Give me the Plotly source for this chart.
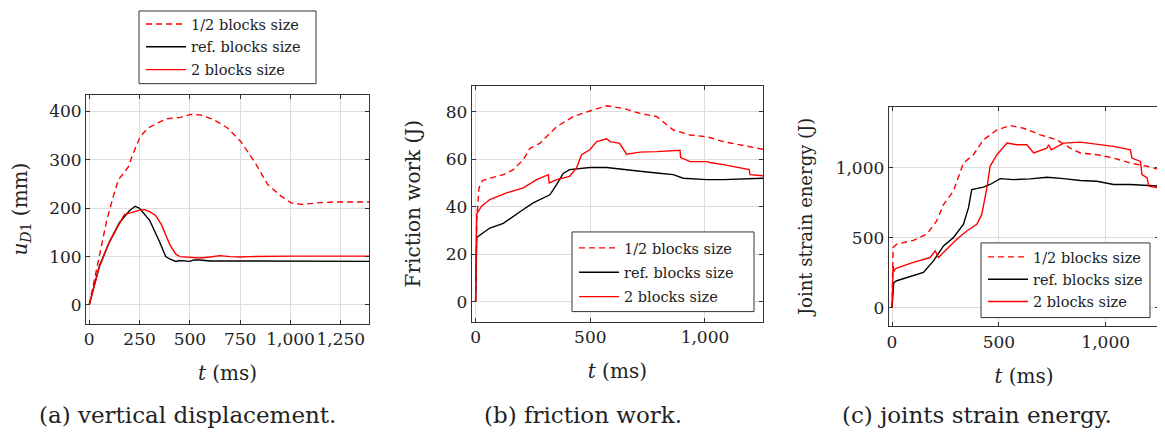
import plotly.graph_objects as go

# ---------------- data ----------------
names = ["1/2 blocks size", "ref. blocks size", "2 blocks size"]

# (a) vertical displacement u_D1 (mm)
a_half_t = [0, 37, 60, 87, 120, 145, 170, 195, 215, 235, 253, 290, 337, 387, 453, 503, 553, 620, 687, 753, 820, 887, 953, 1003, 1053, 1137, 1220, 1390]
a_half_y = [0, 77, 119, 175, 225, 259, 272, 286, 310, 332, 348, 365, 376, 385, 388, 394, 393, 383, 366, 338, 297, 249, 225, 211, 208, 211, 213, 213]
a_ref_t = [0, 25, 50, 100, 150, 200, 228, 250, 300, 350, 380, 400, 430, 450, 500, 520, 550, 600, 650, 700, 750, 1000, 1390]
a_ref_y = [0, 42, 80, 130, 170, 195, 204, 200, 175, 130, 100, 95, 90, 92, 90, 93, 93, 91, 91, 90, 90, 90, 90]
a_two_t = [0, 25, 50, 100, 150, 175, 200, 250, 275, 300, 330, 360, 400, 430, 450, 500, 550, 600, 650, 700, 750, 800, 900, 1000, 1390]
a_two_y = [0, 42, 78, 130, 170, 187, 190, 196, 197, 193, 185, 165, 125, 105, 100, 98, 97, 99, 102, 100, 99, 100, 101, 101, 101]

# (b) friction work (J)
b_half_t = [0, 5, 15, 30, 62, 121, 164, 208, 237, 280, 353, 426, 498, 571, 644, 717, 789, 862, 935, 1007, 1080, 1153, 1253]
b_half_y = [0, 35, 48, 51, 52, 53.5, 55.6, 59.8, 64.6, 66.7, 73.7, 78, 80.3, 82.5, 81.4, 79.3, 78, 72.3, 70.2, 69.5, 67.4, 66, 64.2]
b_ref_t = [0, 5, 33, 62, 121, 164, 208, 251, 324, 353, 382, 410, 440, 498, 571, 644, 717, 789, 862, 905, 1007, 1080, 1253]
b_ref_y = [0, 27, 29, 31, 33, 36, 38.8, 41.6, 45, 49.3, 54, 55.6, 56, 56.5, 56.5, 55.6, 54.9, 54.2, 53.5, 52, 51.4, 51.4, 52]
b_two_t = [0, 5, 26, 62, 135, 208, 266, 317, 321, 353, 410, 440, 462, 498, 528, 571, 586, 628, 658, 717, 789, 891, 894, 935, 1007, 1022, 1080, 1153, 1193, 1196, 1253]
b_two_y = [0, 37, 40.2, 43, 45.8, 47.9, 51.4, 53.5, 50, 51.4, 52.8, 56.3, 61.9, 64, 67.4, 68.6, 67.4, 66.7, 62.1, 63, 63.2, 63.8, 60.7, 59, 59, 58.6, 57.7, 56.5, 55.6, 53.5, 53]

# (c) joint strain energy (J)
c_half_t = [0, 5, 22, 100, 162, 209, 241, 287, 334, 381, 428, 491, 553, 616, 694, 772, 834, 881, 959, 1037, 1116, 1194, 1253]
c_half_y = [0, 431, 455, 483, 526, 621, 739, 834, 1035, 1095, 1201, 1272, 1303, 1284, 1237, 1201, 1142, 1107, 1095, 1071, 1035, 1012, 988]
c_ref_t = [0, 8, 22, 100, 147, 194, 241, 287, 334, 358, 373, 428, 459, 506, 569, 647, 725, 803, 881, 959, 1037, 1116, 1194, 1253]
c_ref_y = [0, 180, 194, 230, 254, 336, 443, 502, 597, 716, 846, 863, 882, 924, 917, 922, 934, 924, 910, 905, 882, 882, 874, 870]
c_two_t = [0, 5, 9, 14, 22, 100, 178, 202, 217, 233, 256, 303, 350, 397, 420, 444, 459, 491, 538, 584, 631, 663, 725, 733, 745, 803, 881, 959, 1037, 1116, 1123, 1163, 1170, 1194, 1202, 1253]
c_two_y = [0, 300, 260, 277, 284, 325, 360, 408, 360, 384, 419, 491, 550, 597, 668, 858, 1012, 1095, 1178, 1166, 1166, 1107, 1142, 1166, 1130, 1178, 1185, 1171, 1154, 1130, 1071, 1047, 953, 929, 870, 858]

# ---------------- figure ----------------
SERIF = "DejaVu Serif"
RED = "#ff0000"
INK = "#222222"
DASH = "6px,4px"
OFF = 8  # page body margin
W, H = 1165 - OFF, 439 - OFF

fig = go.Figure()

panels = [
    ("x", "y", "legend", [(a_half_t, a_half_y), (a_ref_t, a_ref_y), (a_two_t, a_two_y)]),
    ("x2", "y2", "legend2", [(b_half_t, b_half_y), (b_ref_t, b_ref_y), (b_two_t, b_two_y)]),
    ("x3", "y3", "legend3", [(c_half_t, c_half_y), (c_ref_t, c_ref_y), (c_two_t, c_two_y)]),
]
styles = [dict(color=RED, dash=DASH), dict(color="black"), dict(color=RED)]

for xa, ya, lg, series in panels:
    for i, ((t, v), nm, st) in enumerate(zip(series, names, styles)):
        fig.add_trace(go.Scatter(x=t, y=v, mode="lines", name=nm, xaxis=xa, yaxis=ya,
                                 legend=lg, legendgroup=f"{lg}_{i}",
                                 line=dict(width=1.4, **st)))

def px_x(p):
    return (p - OFF) / W

def px_y(p):
    return 1 - (p - OFF) / H

axis_common = dict(showgrid=True, gridcolor="#dcdcdc", gridwidth=1, zeroline=False,
                   showline=True, linecolor="#333333", linewidth=1, mirror="ticks",
                   ticks="inside", ticklen=4, tickcolor="#333333", tickangle=0,
                   automargin=False,
                   tickfont=dict(family=SERIF, size=17, color=INK))

def ttl(text, standoff, size=20):
    return dict(text=text, standoff=standoff, font=dict(family=SERIF, size=size, color=INK))

fig.update_layout(
    width=W, height=H,
    margin=dict(l=0, r=0, t=0, b=0),
    paper_bgcolor="white", plot_bgcolor="white",
    font=dict(family=SERIF, size=14, color=INK),
    xaxis=dict(domain=[px_x(86), px_x(369)], range=[-16, 1390], anchor="y",
               tickvals=[0, 250, 500, 750, 1000, 1250], tickformat=",",
               title=ttl("<i>t</i> (ms)", 18), **axis_common),
    yaxis=dict(domain=[px_y(323), px_y(93)], range=[-38.5, 435], anchor="x",
               tickvals=[0, 100, 200, 300, 400],
               title=ttl("<i>u</i><sub><i>D</i>1</sub> (mm)", 17), **axis_common),
    xaxis2=dict(domain=[px_x(471.7), px_x(763)], range=[-17, 1253], anchor="y2",
                tickvals=[0, 500, 1000], tickformat=",",
                title=ttl("<i>t</i> (ms)", 18), **axis_common),
    yaxis2=dict(domain=[px_y(321), px_y(84)], range=[-8.4, 91], anchor="x2",
                tickvals=[0, 20, 40, 60, 80],
                title=ttl("Friction work (J)", 19), **axis_common),
    xaxis3=dict(domain=[px_x(888.7), px_x(1159.3)], range=[-15.6, 1251], anchor="y3",
                tickvals=[0, 500, 1000], tickformat=",",
                title=ttl("<i>t</i> (ms)", 18), **axis_common),
    yaxis3=dict(domain=[px_y(325.7), px_y(105)], range=[-131, 1439], anchor="x3",
                tickvals=[0, 500, 1000], tickformat=",",
                title=ttl("Joint strain energy (J)", 18, 18), **axis_common),
)

# legend frames (drawn as shapes so their size matches the reference)
frames = [(139, 9, 316, 82), (572, 231, 754, 311), (981, 242, 1150, 317)]
for x0, y0, x1, y1 in frames:
    fig.add_shape(type="rect", xref="paper", yref="paper", layer="above",
                  x0=px_x(x0), x1=px_x(x1), y0=px_y(y1), y1=px_y(y0),
                  fillcolor="white", line=dict(color="#333333", width=1))

leg_common = dict(bgcolor="rgba(0,0,0,0)", borderwidth=0, itemwidth=40,
                  font=dict(family=SERIF, size=14.5, color=INK),
                  xanchor="left", yanchor="top", xref="paper", yref="paper")
fig.update_layout(
    legend=dict(x=px_x(141), y=px_y(6), tracegroupgap=1, **leg_common),
    legend2=dict(x=px_x(574), y=px_y(231), tracegroupgap=2.5, **leg_common),
    legend3=dict(x=px_x(983), y=px_y(240), tracegroupgap=0.5, **leg_common),
)

captions = [("(a) vertical displacement.", 187), ("(b) friction work.", 582.5), ("(c) joints strain energy.", 977)]
for txt, cx in captions:
    fig.add_annotation(text=txt, x=px_x(cx), y=px_y(415), xref="paper", yref="paper",
                       showarrow=False, xanchor="center", yanchor="middle",
                       font=dict(family=SERIF, size=23, color=INK))

fig.write_html("out.html")
